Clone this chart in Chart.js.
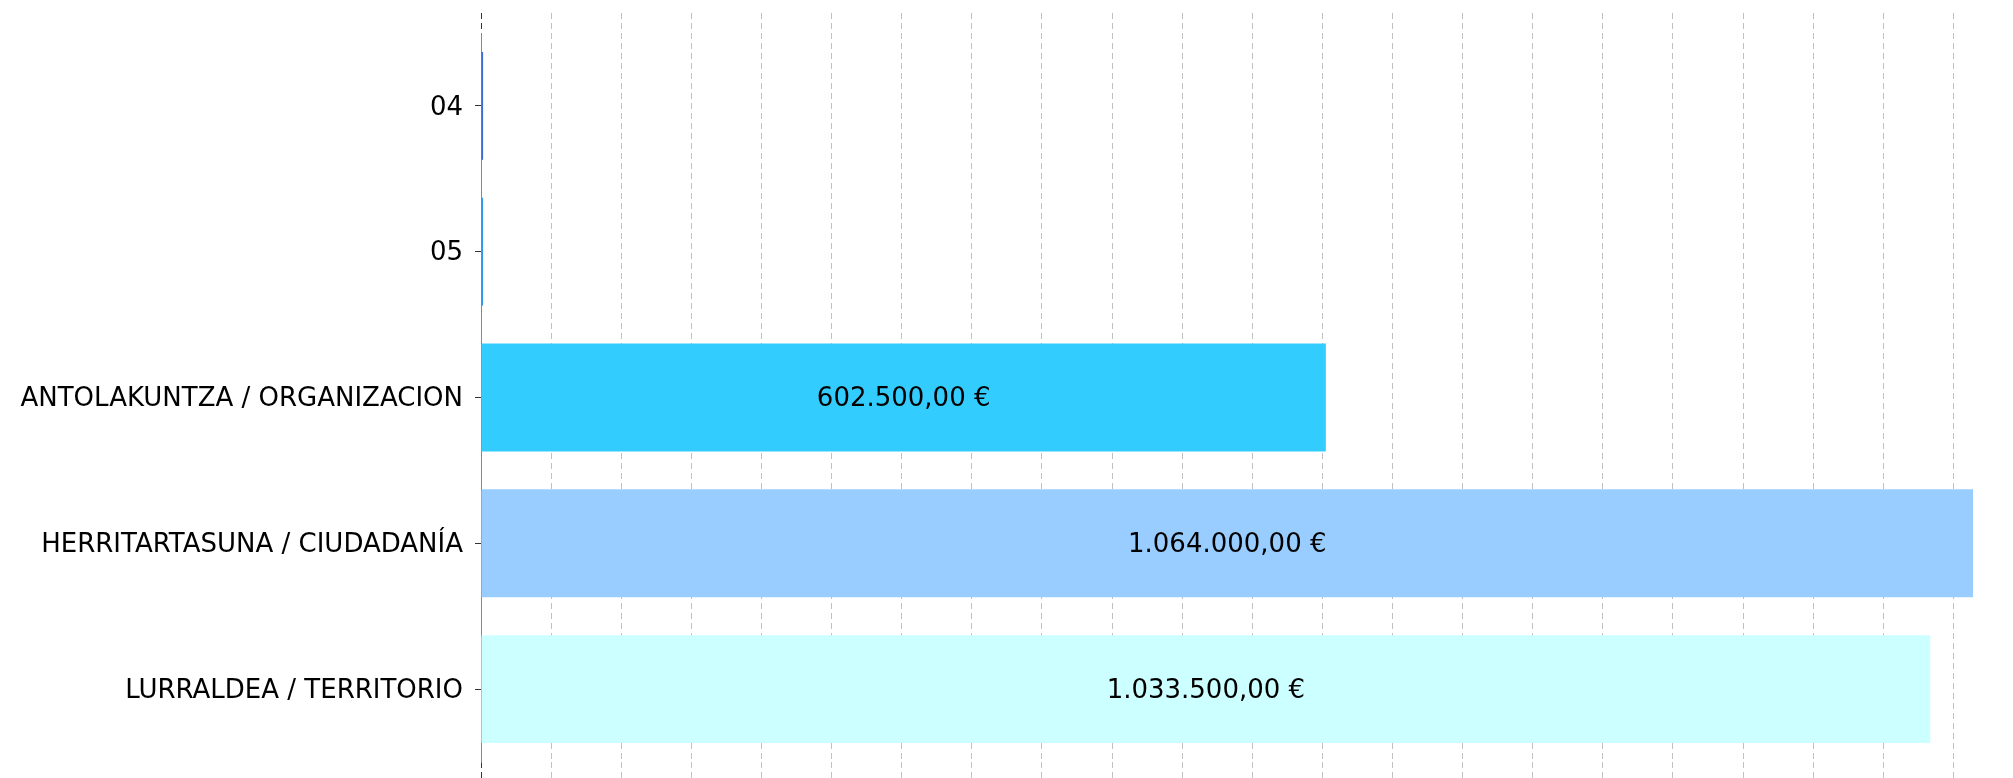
<!DOCTYPE html>
<html>
<head>
<meta charset="utf-8">
<script src="https://cdn.jsdelivr.net/npm/chart.js@4"></script>
<style>
  body { margin: 0; background: #fff; }
  #wrap { width: 2013px; height: 778px; }
</style>
</head>
<body>
<div id="wrap"><canvas id="chart" width="2013" height="778"></canvas></div>
<script>
// Budget per area
const categories = ['04', '05', 'ANTOLAKUNTZA / ORGANIZACION', 'HERRITARTASUNA / CIUDADANÍA', 'LURRALDEA / TERRITORIO'];
const amounts = [1500, 1500, 602500, 1064000, 1033500];
const barColors = ['#3b6cd6', '#3399ee', '#33ccff', '#99ccff', '#ccffff'];

const axisMax = 1064000;
const gridStep = 50000;

function formatEuro(v) {
    const parts = v.toFixed(2).split('.');
    const intPart = parts[0].replace(/\B(?=(\d{3})+(?!\d))/g, '.');
    return intPart + ',' + parts[1] + ' €';
}

function gridColor(ctx) {
    return ctx.tick && ctx.tick.value === 0 ? '#333333' : '#c0c0c0';
}

// one grid line every 50.000, none at the max edge
function stepTicks(scale) {
    const ticks = [];
    for (let v = 0; v <= axisMax; v += gridStep) ticks.push({ value: v });
    scale.ticks = ticks;
}

// draws the amount centred in each bar
const valueLabels = {
    id: 'valueLabels',
    afterDatasetsDraw(chart) {
        const ctx = chart.ctx;
        const meta = chart.getDatasetMeta(0);
        ctx.save();
        ctx.font = '26px "DejaVu Sans"';
        ctx.fillStyle = '#000';
        ctx.textAlign = 'center';
        ctx.textBaseline = 'middle';
        meta.data.forEach((bar, i) => {
            if (bar.width < 200) return;
            ctx.fillText(formatEuro(amounts[i]), (bar.x + bar.base) / 2, bar.y + 2);
        });
        ctx.restore();
    }
};

new Chart(document.getElementById('chart'), {
    type: 'bar',
    data: {
        labels: categories,
        datasets: [{
            data: amounts,
            backgroundColor: barColors,
            borderWidth: 0,
            categoryPercentage: 1,
            barPercentage: 0.74
        }]
    },
    options: {
        indexAxis: 'y',
        responsive: false,
        animation: false,
        layout: { padding: { top: 13, left: 11, right: 40, bottom: 0 } },
        plugins: { legend: { display: false }, tooltip: { enabled: false } },
        scales: {
            x: {
                type: 'linear',
                position: 'bottom',
                min: 0,
                max: axisMax,
                ticks: { display: false },
                afterBuildTicks: stepTicks,
                grid: {
                    color: gridColor,
                    tickColor: gridColor,
                    tickLength: 16,
                    tickBorderDash: [6, 4]
                },
                border: { display: false, dash: [6, 4] }
            },
            x2: {
                position: 'top',
                type: 'linear',
                min: 0,
                max: axisMax,
                ticks: { display: false },
                afterBuildTicks: stepTicks,
                grid: {
                    drawOnChartArea: false,
                    color: gridColor,
                    tickColor: gridColor,
                    tickLength: 20,
                    tickBorderDash: [6, 4]
                },
                border: { display: false }
            },
            y: {
                afterFit(scale) {
                    scale.width = 470;
                    scale.paddingTop = 0;
                    scale.paddingBottom = 0;
                },
                ticks: {
                    color: '#000',
                    padding: 12,
                    labelOffset: 2,
                    font: { family: 'DejaVu Sans', size: 26 }
                },
                grid: {
                    offset: false,
                    drawOnChartArea: false,
                    tickLength: 6,
                    tickColor: '#333333'
                },
                border: { color: '#888888' }
            }
        }
    },
    plugins: [valueLabels]
});
</script>
</body>
</html>
